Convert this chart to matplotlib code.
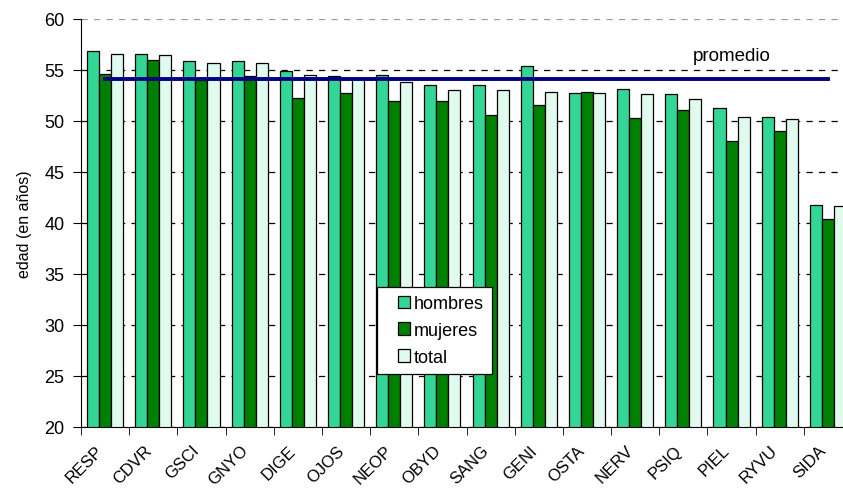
import numpy as np
import matplotlib.pyplot as plt
import matplotlib.patches as mpatches
import matplotlib.transforms as mtransforms
from matplotlib.legend_handler import HandlerPatch

plt.rcParams['font.family'] = ['Liberation Sans', 'DejaVu Sans']

categorias = ['RESP', 'CDVR', 'GSCI', 'GNYO', 'DIGE', 'OJOS', 'NEOP', 'OBYD',
              'SANG', 'GENI', 'OSTA', 'NERV', 'PSIQ', 'PIEL', 'RYVU', 'SIDA']
hombres = [56.9, 56.6, 55.85, 55.85, 54.9, 54.4, 54.5, 53.5,
           53.5, 55.35, 52.7, 53.1, 52.6, 51.25, 50.4, 41.8]
mujeres = [54.6, 56.0, 54.0, 54.45, 52.25, 52.7, 52.0, 52.0,
           50.55, 51.6, 52.8, 50.3, 51.1, 48.0, 49.0, 40.35]
total = [56.6, 56.5, 55.65, 55.65, 54.5, 54.1, 53.8, 53.0,
         53.0, 52.8, 52.75, 52.65, 52.15, 50.35, 50.15, 41.7]
promedio = 54.1
series = ['hombres', 'mujeres', 'total']
colores = ['#33D695', '#008000', '#E0FAEE']

fig = plt.figure(figsize=(8.43, 4.89), dpi=100)
# the original chart is cut off on the right, so the axes go past the figure edge
ax = fig.add_axes([81/843, 61/489, 771/843, 408/489])

x = np.arange(len(categorias))
w = 0.25
for i, vals in enumerate([hombres, mujeres, total]):
    ax.bar(x + (i - 1) * w, vals, w, color=colores[i], edgecolor='black', linewidth=0.9, zorder=2)

# average line
ax.plot([x[0], x[-1]], [promedio, promedio], color='#000080', linewidth=2.8, zorder=3)
ax.text(13, 56.4, 'promedio', ha='center', va='center', fontsize=13.5)

ax.set_ylim(20, 60)
ax.set_xlim(-0.5, len(categorias) - 0.5)
ax.set_yticks(np.arange(20, 61, 5))
ax.tick_params(axis='y', labelsize=13, length=6, pad=6, direction='out')
ax.yaxis.grid(True, color='black', linestyle=(0, (5, 5)), linewidth=0.9, zorder=0)
ax.get_ygridlines()[-1].set_color('#999999')
ax.set_axisbelow(True)

ax.set_xticks(x)
ax.set_xticklabels(categorias, rotation=45, ha='right', rotation_mode='anchor', fontsize=12)
ax.set_xticks(np.arange(-0.5, len(categorias), 1), minor=True)
ax.tick_params(axis='x', which='major', length=0, pad=11)
ax.tick_params(axis='x', which='minor', length=6, direction='out')
shift = mtransforms.ScaledTranslation(-7/72, 0, fig.dpi_scale_trans)
for lab in ax.get_xticklabels():
    lab.set_transform(lab.get_transform() + shift)

ax.spines['top'].set_visible(False)
ax.spines['right'].set_visible(False)
ax.set_ylabel('edad (en años)', fontsize=11.5, labelpad=9)


# square legend keys pushed to the right of the handle box
def square_key(legend, orig_handle, xdescent, ydescent, width, height, fontsize):
    return mpatches.Rectangle((width - height - xdescent, -ydescent), height, height)


proxies = [mpatches.Patch(facecolor=c, edgecolor='black', linewidth=0.9) for c in colores]
leg = ax.legend(proxies, series, loc='upper left', bbox_to_anchor=(0.384, 0.343), fontsize=13,
                fancybox=False, framealpha=1, edgecolor='black', borderaxespad=0,
                handlelength=1.4, handleheight=0.7, handletextpad=0.2,
                borderpad=0.45, labelspacing=0.55,
                handler_map={mpatches.Patch: HandlerPatch(patch_func=square_key)})
leg.get_frame().set_linewidth(0.9)

fig.savefig('out.png', dpi=100)
